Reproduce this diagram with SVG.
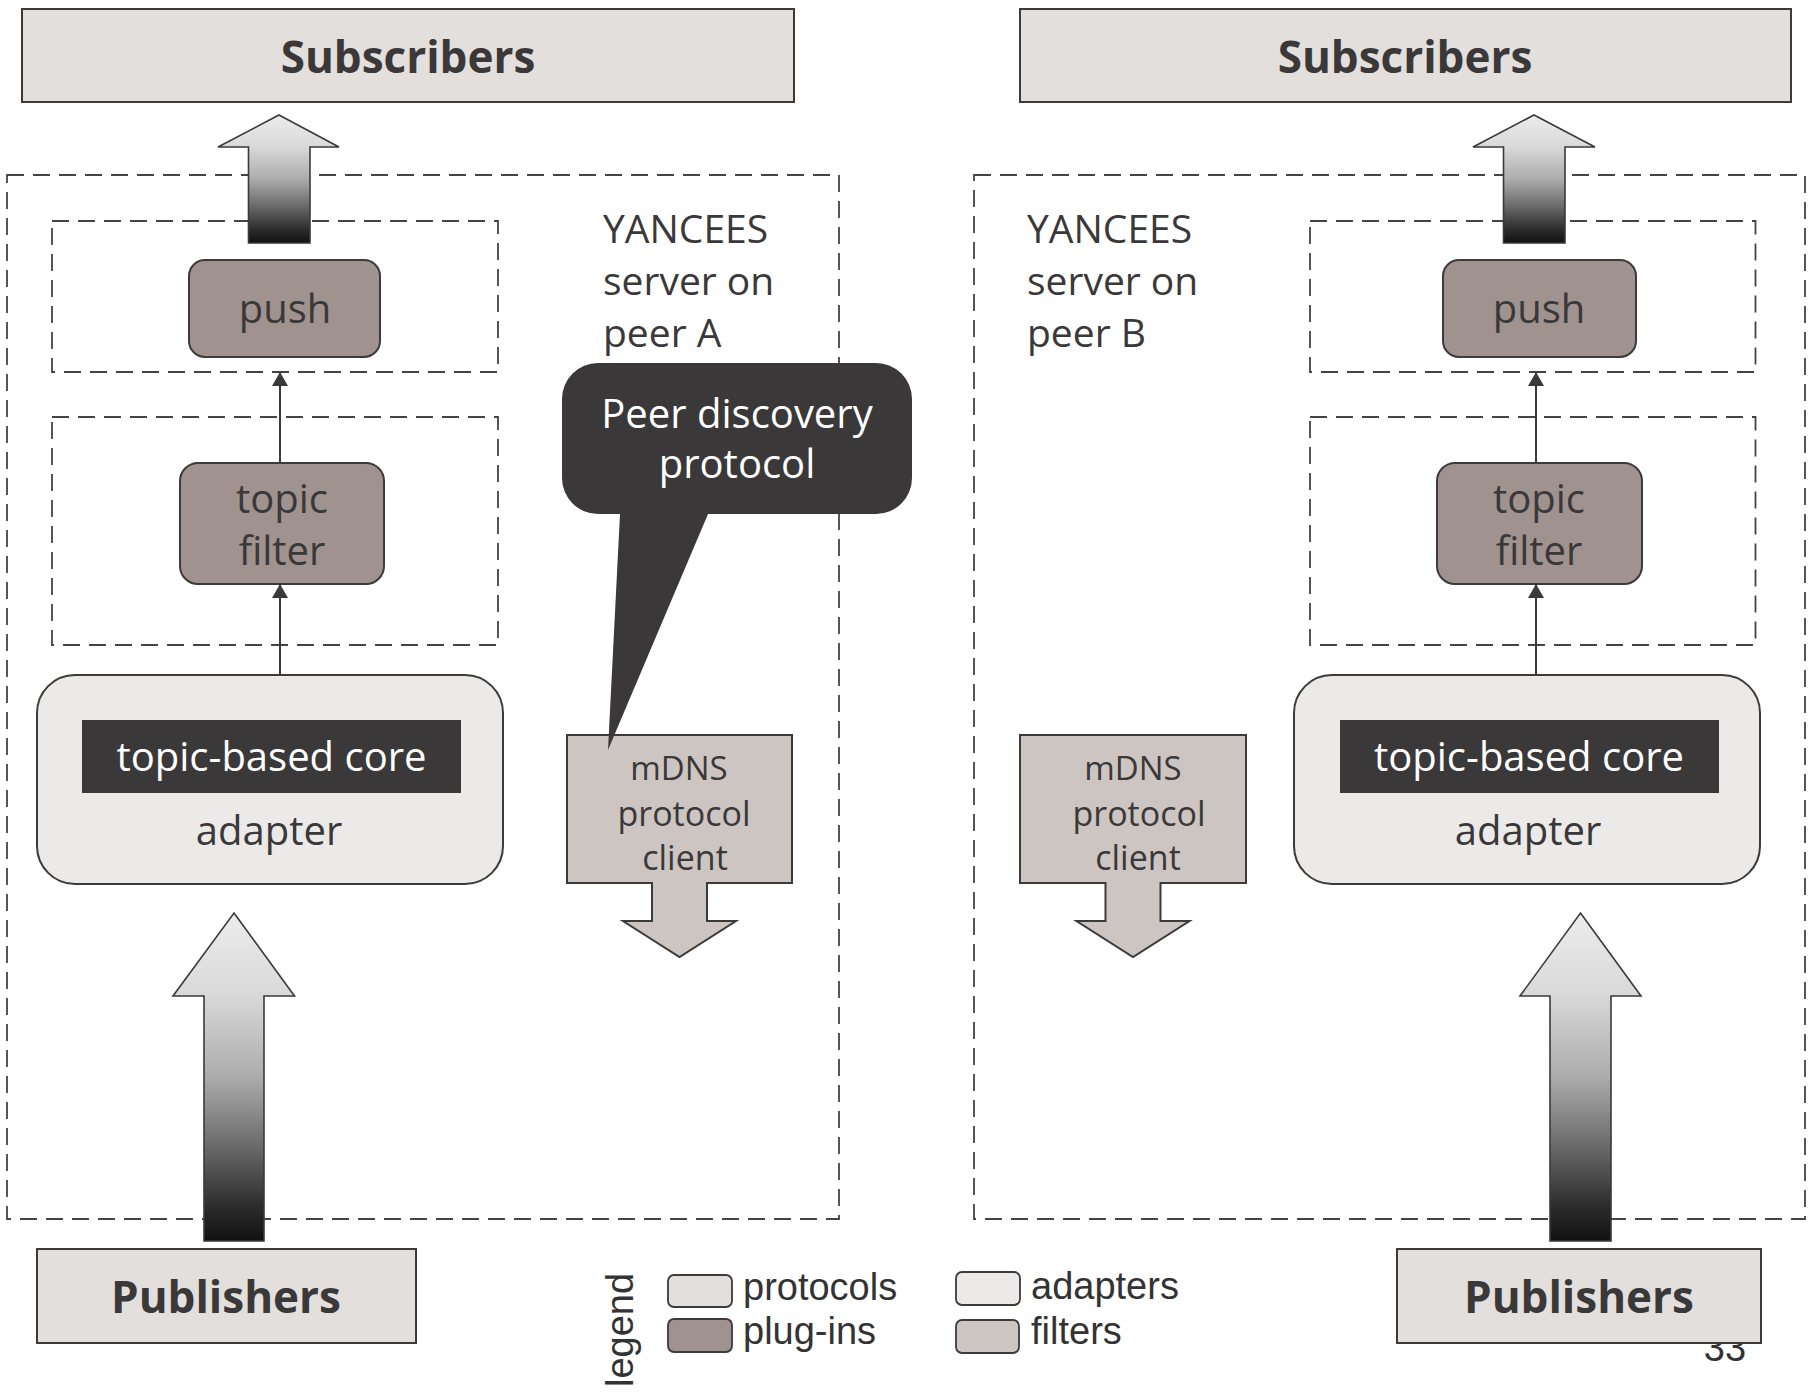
<svg xmlns="http://www.w3.org/2000/svg" width="1808" height="1392" viewBox="0 0 1808 1392">
  <style>
    .t { font-family: "Open Sans", "Noto Sans", sans-serif; fill: #3a3838; text-anchor: middle; }
    .tb { font-family: "Open Sans", "Noto Sans", sans-serif; font-weight: 700; fill: #3a3838; text-anchor: middle; font-size: 44px; }
    .lbl { font-family: "Open Sans", "Noto Sans", sans-serif; fill: #3a3838; font-size: 39px; }
    .white { fill: #ffffff; }
    .leg { font-family: "Liberation Sans", Arial, sans-serif; fill: #333333; font-size: 38px; }
    .edge { stroke: #3b3b3b; stroke-width: 2; }
    .dash { fill: none; stroke: #444444; stroke-width: 1.8; stroke-dasharray: 17 9; }
    .ext { fill: #e3dfdd; }
    .plug { fill: #a0928e; }
    .adapt { fill: #ebeae9; }
    .filt { fill: #cdc5c2; }
    .dark { fill: #3a3839; }
    .flow { fill: url(#flowGrad); stroke: #3a3a3a; stroke-width: 1.6; }
    .link { stroke: #3a3a3a; stroke-width: 2; fill: none; marker-end: url(#tip); }
  </style>
  <defs>
    <linearGradient id="flowGrad" x1="0" y1="0" x2="0" y2="1">
      <stop offset="0" stop-color="#ececec"/>
      <stop offset="0.25" stop-color="#d9d9d9"/>
      <stop offset="0.5" stop-color="#acacac"/>
      <stop offset="0.7" stop-color="#6e6e6e"/>
      <stop offset="0.9" stop-color="#2a2a2a"/>
      <stop offset="1" stop-color="#111111"/>
    </linearGradient>
    <marker id="tip" viewBox="0 0 14 16" markerUnits="userSpaceOnUse" markerWidth="14" markerHeight="16" refX="14" refY="8" orient="auto">
      <path d="M0,0 L14,8 L0,16 Z" fill="#3a3a3a"/>
    </marker>
  </defs>

  <rect width="1808" height="1392" fill="#ffffff"/>

  <!-- server containers -->
  <g id="server-a">
    <rect class="dash" x="7" y="175" width="832" height="1044"/>
    <text class="lbl" x="603" y="243">YANCEES</text>
    <text class="lbl" x="603" y="295">server on</text>
    <text class="lbl" x="603" y="347">peer A</text>
  </g>
  <g id="server-b">
    <rect class="dash" x="974" y="175" width="831" height="1044"/>
    <text class="lbl" x="1027" y="243">YANCEES</text>
    <text class="lbl" x="1027" y="295">server on</text>
    <text class="lbl" x="1027" y="347">peer B</text>
  </g>

  <!-- plug-in slots -->
  <g id="slot-push-a"><rect class="dash" x="52" y="221" width="446" height="151"/></g>
  <g id="slot-filter-a"><rect class="dash" x="52" y="417" width="446" height="228"/></g>
  <g id="slot-push-b"><rect class="dash" x="1310" y="221" width="445.5" height="151"/></g>
  <g id="slot-filter-b"><rect class="dash" x="1310" y="417" width="445.5" height="228"/></g>

  <!-- external parties -->
  <g id="subscribers-a">
    <rect class="ext edge" x="22" y="9" width="772" height="93"/>
    <text class="tb" x="408" y="73">Subscribers</text>
  </g>
  <g id="subscribers-b">
    <rect class="ext edge" x="1020" y="9" width="771" height="93"/>
    <text class="tb" x="1405" y="73">Subscribers</text>
  </g>
  <text class="leg" x="1725" y="1361" font-size="31" text-anchor="middle">33</text>
  <g id="publishers-a">
    <rect class="ext edge" x="37" y="1249" width="379" height="94"/>
    <text class="tb" x="226" y="1313">Publishers</text>
  </g>
  <g id="publishers-b">
    <rect class="ext edge" x="1397" y="1249" width="364" height="94"/>
    <text class="tb" x="1579" y="1313">Publishers</text>
  </g>

  <!-- plug-ins -->
  <g id="push-a">
    <rect class="plug edge" x="189" y="260" width="191" height="97" rx="16"/>
    <text class="t" x="285" y="323" font-size="40">push</text>
  </g>
  <g id="filter-a">
    <rect class="plug edge" x="180" y="463" width="204" height="121" rx="18"/>
    <text class="t" x="282" y="513" font-size="40">topic</text>
    <text class="t" x="282" y="565" font-size="40">filter</text>
  </g>
  <g id="push-b">
    <rect class="plug edge" x="1443" y="260" width="193" height="97" rx="16"/>
    <text class="t" x="1539" y="323" font-size="40">push</text>
  </g>
  <g id="filter-b">
    <rect class="plug edge" x="1437" y="463" width="205" height="121" rx="18"/>
    <text class="t" x="1539" y="513" font-size="40">topic</text>
    <text class="t" x="1539" y="565" font-size="40">filter</text>
  </g>

  <!-- adapters with the core -->
  <g id="adapter-a">
    <rect class="adapt edge" x="37" y="675" width="466" height="209" rx="38"/>
    <rect class="dark" x="82" y="720" width="379" height="73"/>
    <text class="t white" x="271.5" y="771" font-size="40">topic-based core</text>
    <text class="t" x="269" y="845" font-size="40">adapter</text>
  </g>
  <g id="adapter-b">
    <rect class="adapt edge" x="1294" y="675" width="466" height="209" rx="38"/>
    <rect class="dark" x="1340" y="720" width="379" height="73"/>
    <text class="t white" x="1529" y="771" font-size="40">topic-based core</text>
    <text class="t" x="1528" y="845" font-size="40">adapter</text>
  </g>

  <!-- mDNS protocol clients -->
  <g id="mdns-a">
    <path class="filt edge" d="M567,735 H792 V883 H707 V921 H736 L679.5,957 L623,921 H652 V883 H567 Z"/>
    <text class="t" x="679" y="780" font-size="33">mDNS</text>
    <text class="t" x="684" y="826" font-size="34">protocol</text>
    <text class="t" x="685" y="870" font-size="34">client</text>
  </g>
  <g id="mdns-b">
    <path class="filt edge" d="M1020,735 H1246 V883 H1160.5 V921 H1189.5 L1133,957 L1076.5,921 H1105.5 V883 H1020 Z"/>
    <text class="t" x="1133" y="780" font-size="33">mDNS</text>
    <text class="t" x="1139" y="826" font-size="34">protocol</text>
    <text class="t" x="1138" y="870" font-size="34">client</text>
  </g>

  <!-- callout -->
  <g id="callout">
    <path class="dark" d="M598,363 H876 A36,36 0 0 1 912,399 V478 A36,36 0 0 1 876,514 H708 L608,750 L620,514 H598 A36,36 0 0 1 562,478 V399 A36,36 0 0 1 598,363 Z"/>
    <text class="t white" x="737" y="428" font-size="40">Peer discovery</text>
    <text class="t white" x="737" y="478" font-size="40">protocol</text>
  </g>

  <!-- connectors -->
  <g id="connectors">
    <path class="flow" d="M279,115 L339,147 L310,147 L310,243 L248.5,243 L248.5,147 L218,147 Z"/>
    <path class="flow" d="M1534,115 L1595,147 L1565,147 L1565,243 L1503.5,243 L1503.5,147 L1473,147 Z"/>
    <path class="flow" d="M234,913 L294.5,996 L264,996 L264,1241 L204,1241 L204,996 L173,996 Z"/>
    <path class="flow" d="M1580.5,913 L1641,996 L1611,996 L1611,1241 L1550,1241 L1550,996 L1520,996 Z"/>
    <line class="link" x1="280" y1="675" x2="280" y2="584"/>
    <line class="link" x1="280" y1="463" x2="280" y2="372"/>
    <line class="link" x1="1536" y1="675" x2="1536" y2="584"/>
    <line class="link" x1="1536" y1="463" x2="1536" y2="372"/>
  </g>

  <!-- legend -->
  <g id="legend">
    <text class="leg" transform="translate(633,1387) rotate(-90)" font-size="40">legend</text>
    <rect class="ext" x="668" y="1275" width="64" height="32" rx="6" stroke="#3b3b3b" stroke-width="1.8"/>
    <text class="leg" x="743" y="1300">protocols</text>
    <rect class="plug" x="668" y="1319" width="64" height="33" rx="6" stroke="#3b3b3b" stroke-width="1.8"/>
    <text class="leg" x="743" y="1344">plug-ins</text>
    <rect class="adapt" x="956" y="1272" width="64" height="33" rx="6" stroke="#3b3b3b" stroke-width="1.8"/>
    <text class="leg" x="1031" y="1299">adapters</text>
    <rect class="filt" x="956" y="1320" width="63" height="33" rx="6" stroke="#3b3b3b" stroke-width="1.8"/>
    <text class="leg" x="1031" y="1344">filters</text>
  </g>
</svg>
